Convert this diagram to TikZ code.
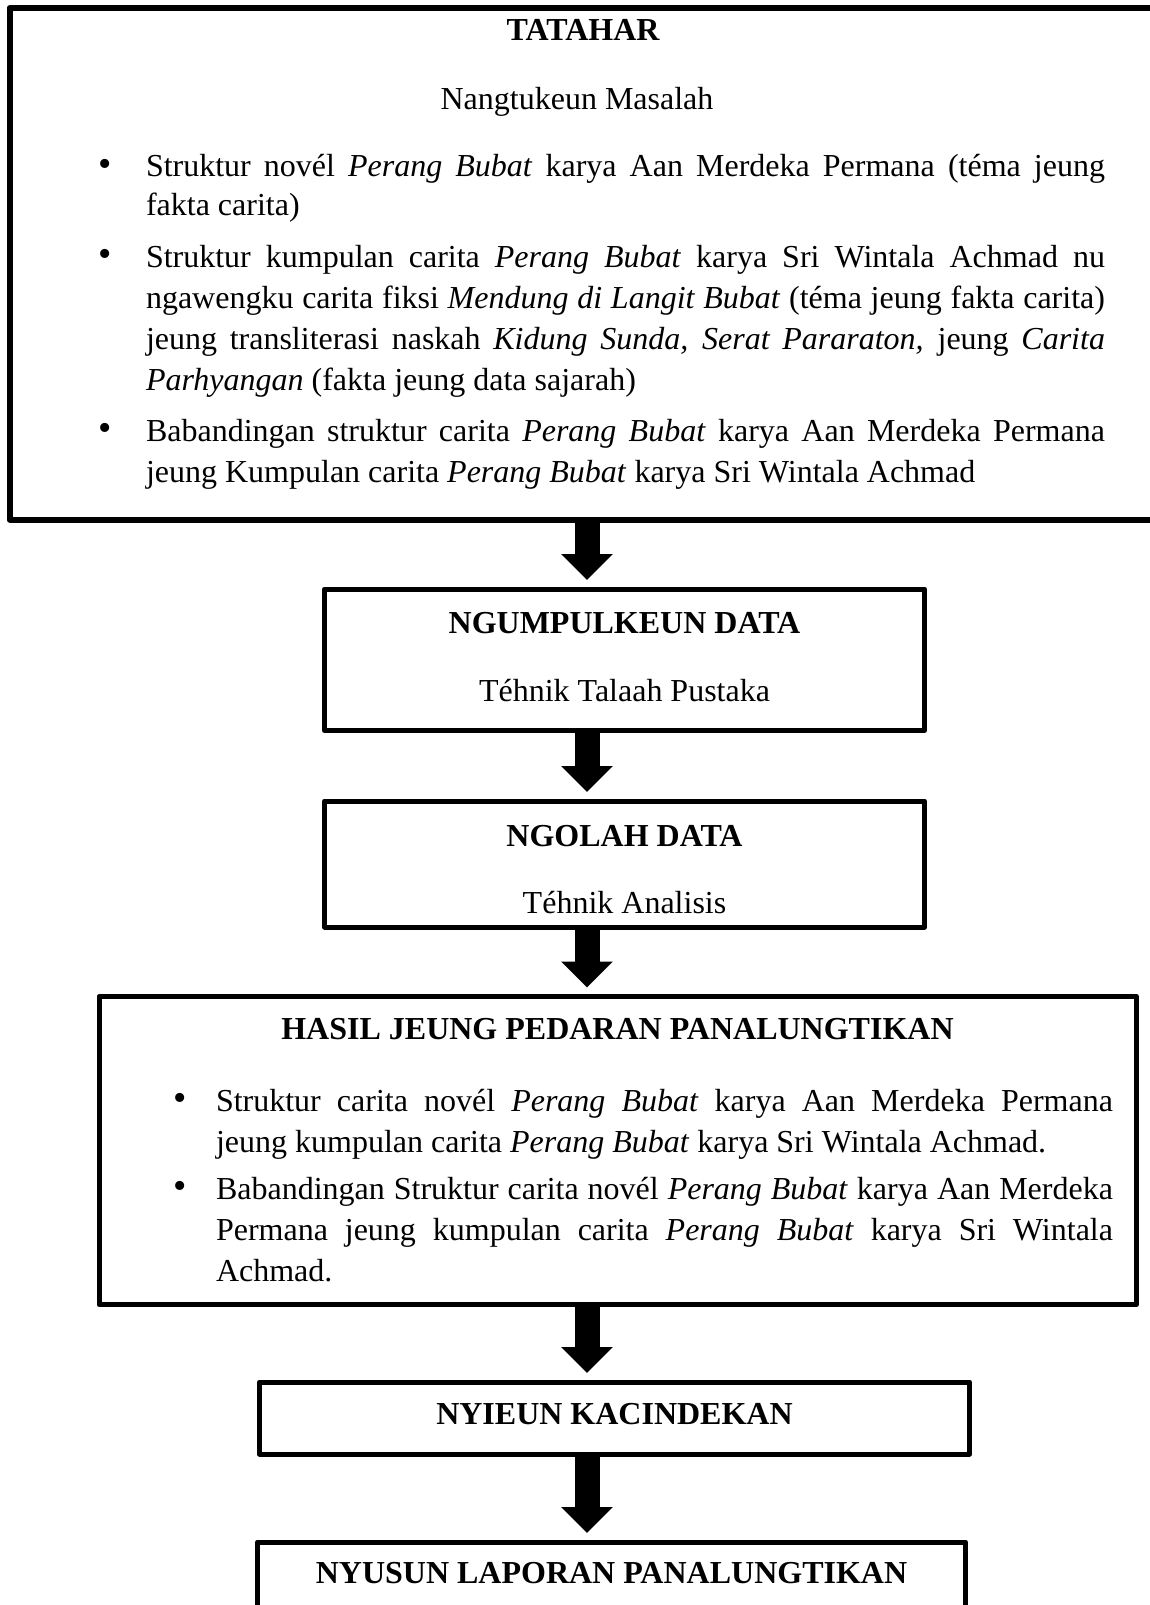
\documentclass[tikz,border=0pt]{standalone}
\usepackage{fontspec}
\setmainfont{Liberation Serif}
\usetikzlibrary{arrows.meta}
\newcommand{\fsz}{\fontsize{32}{41}\selectfont}
\newcommand{\fbul}{\fontsize{38}{41}\selectfont}
\begin{document}
\begin{tikzpicture}[x=1pt,y=-1pt,
  box/.style={draw, line width=5pt, line join=round, rectangle, inner sep=0pt, outer sep=0pt, anchor=north west},
  txt/.style={inner sep=0pt, outer sep=0pt, anchor=base west, font=\fsz},
  ttl/.style={inner sep=0pt, outer sep=0pt, anchor=base, font=\fsz\bfseries},
  sub/.style={inner sep=0pt, outer sep=0pt, anchor=base, font=\fsz},
  bul/.style={inner sep=0pt, outer sep=0pt, anchor=center, font=\fbul},
  flow/.style={line width=25pt, -{Triangle[width=50pt,length=26pt]}, shorten >=9pt}
]
\useasboundingbox (0,0) rectangle (1150,1605);
\coordinate (ax) at (587,0);

% boxes
\node[box, line width=6pt, minimum width=1160.5pt, minimum height=511.5pt] (b1) at (9.5,8) {};
\node[box, minimum width=600pt, minimum height=141.5pt] (b2) at (324.5,589) {};
\node[box, minimum width=600pt, minimum height=126pt] (b3) at (324.5,801) {};
\node[box, minimum width=1037.5pt, minimum height=308pt] (b4) at (99,996.5) {};
\node[box, minimum width=710pt, minimum height=72pt] (b5) at (259.5,1382) {};
\node[box, minimum width=708pt, minimum height=120pt] (b6) at (257.5,1542) {};

% arrows
\draw[flow] (b1.south -| ax) -- (b2.north -| ax);
\draw[flow] (b2.south -| ax) -- (b3.north -| ax);
\draw[flow] (b3.south -| ax) -- (b4.north -| ax);
\draw[flow] (b4.south -| ax) -- (b5.north -| ax);
\draw[flow] (b5.south -| ax) -- (b6.north -| ax);

% box 1 text
\node[ttl] (t1) at (583,41) {TATAHAR};
\node[sub] (s1) at (577,110) {Nangtukeun Masalah};
\node[bul] (k1) at (105,168) {•};
\node[txt] (l1) at (146,177) {\makebox[959pt][s]{Struktur novél \textit{Perang Bubat} karya Aan Merdeka Permana (téma jeung}};
\node[txt] (l2) at (146,216) {fakta carita)};
\node[bul] (k2) at (105,258) {•};
\node[txt] (l3) at (146,267) {\makebox[959pt][s]{Struktur kumpulan carita \textit{Perang Bubat} karya Sri Wintala Achmad nu}};
\node[txt] (l4) at (146,308) {\makebox[959pt][s]{ngawengku carita fiksi \textit{Mendung di Langit Bubat} (téma jeung fakta carita)}};
\node[txt] (l5) at (146,349) {\makebox[959pt][s]{jeung transliterasi naskah \textit{Kidung Sunda, Serat Pararaton,} jeung \textit{Carita}}};
\node[txt] (l6) at (146,390) {\textit{Parhyangan} (fakta jeung data sajarah)};
\node[bul] (k3) at (105,432) {•};
\node[txt] (l7) at (146,441) {\makebox[959pt][s]{Babandingan struktur carita \textit{Perang Bubat} karya Aan Merdeka Permana}};
\node[txt] (l8) at (146,482) {jeung Kumpulan carita \textit{Perang Bubat} karya Sri Wintala Achmad};

% box 2 text
\node[ttl] (t2) at (624.5,633) {NGUMPULKEUN DATA};
\node[sub] (s2) at (624.5,701) {Téhnik Talaah Pustaka};

% box 3 text
\node[ttl] (t3) at (624.5,846) {NGOLAH DATA};
\node[sub] (s3) at (624.5,913) {Téhnik Analisis};

% box 4 text
\node[ttl] (t4) at (617.5,1039) {HASIL JEUNG PEDARAN PANALUNGTIKAN};
\node[bul] (k4) at (180,1102) {•};
\node[txt] (m1) at (216,1111) {\makebox[897pt][s]{Struktur carita novél \textit{Perang Bubat} karya Aan Merdeka Permana}};
\node[txt] (m2) at (216,1152) {jeung kumpulan carita \textit{Perang Bubat} karya Sri Wintala Achmad.};
\node[bul] (k5) at (180,1190) {•};
\node[txt] (m3) at (216,1199) {\makebox[897pt][s]{Babandingan Struktur carita novél \textit{Perang Bubat} karya Aan Merdeka}};
\node[txt] (m4) at (216,1240) {\makebox[897pt][s]{Permana jeung kumpulan carita \textit{Perang Bubat} karya Sri Wintala}};
\node[txt] (m5) at (216,1281) {Achmad.};

% box 5, 6 text
\node[ttl] (t5) at (614.5,1424) {NYIEUN KACINDEKAN};
\node[ttl] (t6) at (611.5,1583) {NYUSUN LAPORAN PANALUNGTIKAN};
\end{tikzpicture}
\end{document}
